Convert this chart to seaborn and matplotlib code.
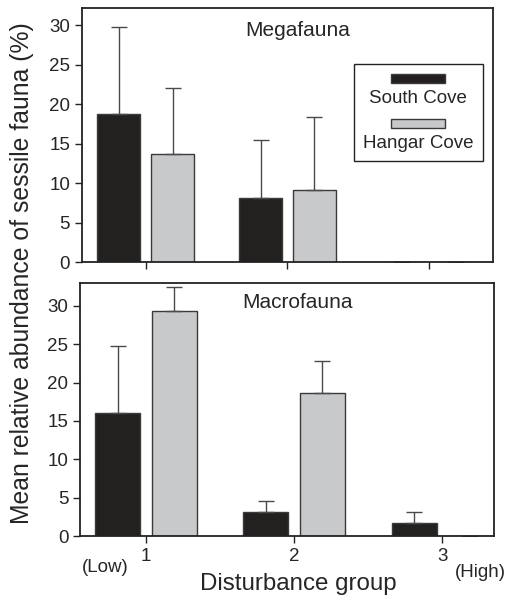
import numpy as np
import pandas as pd
import matplotlib
matplotlib.use("Agg")
import matplotlib.pyplot as plt
from matplotlib.patches import Rectangle
import seaborn as sns

groups = ["1", "2", "3"]
sites = ["South Cove", "Hangar Cove"]

mega_south = [18.7, 8.1, 0.0]
mega_south_err = [11.1, 7.4, np.nan]
mega_hangar = [13.7, 9.1, 0.0]
mega_hangar_err = [8.3, 9.2, np.nan]

macro_south = [16.0, 3.1, 1.65]
macro_south_err = [8.7, 1.45, 1.55]
macro_hangar = [29.3, 18.6, 0.0]
macro_hangar_err = [3.1, 4.2, np.nan]

y_ticks = [0, 5, 10, 15, 20, 25, 30]

palette = {"South Cove": "#231f20", "Hangar Cove": "#c8c9cb"}
edge = "#3a3a3a"

sns.set_style("ticks")
plt.rcParams["font.family"] = ["Liberation Sans", "DejaVu Sans"]


def make_df(south, hangar):
    return pd.DataFrame({
        "group": groups * 2,
        "site": [sites[0]] * 3 + [sites[1]] * 3,
        "value": list(south) + list(hangar),
    })


def panel(ax, south, south_err, hangar, hangar_err, title, ylim, xlim, ty):
    df = make_df(south, hangar)
    sns.barplot(data=df, x="group", y="value", hue="site", order=groups,
                hue_order=sites, palette=palette, errorbar=None, width=0.76,
                gap=0.2, edgecolor=edge, linewidth=1.0, legend=False, ax=ax)
    for cont, errs in zip(ax.containers, [south_err, hangar_err]):
        xs = [b.get_x() + b.get_width() / 2 for b in cont]
        hs = [b.get_height() for b in cont]
        errs = np.array(errs, dtype=float)
        ax.errorbar(xs, hs, yerr=[np.zeros_like(errs), errs], fmt="none",
                    ecolor="#4a4a4a", elinewidth=1.0, capsize=6, capthick=1.0,
                    zorder=1)
    ax.set_ylim(*ylim)
    ax.set_xlim(*xlim)
    ax.set_yticks(y_ticks)
    ax.tick_params(axis="both", labelsize=13.5, direction="out", length=5,
                   width=1.0, color="#222222")
    for s in ax.spines.values():
        s.set_visible(True)
        s.set_linewidth(1.3)
        s.set_color("#222222")
    ax.set_xlabel("")
    ax.set_ylabel("")
    ax.text(0.524, ty, title, transform=ax.transAxes, ha="center",
            va="center", fontsize=15)


fig = plt.figure(figsize=(5.07, 6.01), dpi=100)
ax1 = fig.add_axes([0.1617, 0.564, 0.8106, 0.4226])
ax2 = fig.add_axes([0.158, 0.108, 0.8165, 0.4216])

panel(ax1, mega_south, mega_south_err, mega_hangar, mega_hangar_err,
      "Megafauna", (0, 32.15), (-0.45, 2.45), 0.913)
ax1.set_xticklabels([])

panel(ax2, macro_south, macro_south_err, macro_hangar, macro_hangar_err,
      "Macrofauna", (0, 33.0), (-0.444, 2.35), 0.921)
ax2.set_xticklabels(groups)

# Legend (labels under swatches)
lx0, lx1 = (354 - 82) / 411, (482.7 - 82) / 411
ly0, ly1 = (262 - 161) / 254, (262 - 63.7) / 254
ax1.add_patch(Rectangle((lx0, ly0), lx1 - lx0, ly1 - ly0, transform=ax1.transAxes,
                        facecolor="white", edgecolor="#222222", linewidth=1.0,
                        zorder=5))
cx = (lx0 + lx1) / 2
sw_w = 54 / 411
sw_h = 9 / 254
for i, site in enumerate(sites):
    sy = (262 - (78.2 + i * 45.5)) / 254
    ax1.add_patch(Rectangle((cx - sw_w / 2, sy - sw_h / 2), sw_w, sw_h,
                            transform=ax1.transAxes, facecolor=palette[site],
                            edgecolor=edge, linewidth=1.0, zorder=6))
    ty = (262 - (98 + i * 45.5)) / 254
    ax1.text(cx, ty, site, transform=ax1.transAxes, ha="center", va="center",
             fontsize=13.5, zorder=7)

fig.text(22 / 507, 1 - 273.5 / 601, "Mean relative abundance of sessile fauna (%)",
         rotation=90, ha="center", va="center", fontsize=17.8)
fig.text(298.5 / 507, 1 - 584 / 601, "Disturbance group", ha="center",
         va="center", fontsize=17.4)
fig.text(105 / 507, 1 - 567.5 / 601, "(Low)", ha="center", va="center",
         fontsize=13.5)
fig.text(480 / 507, 1 - 572.5 / 601, "(High)", ha="center", va="center",
         fontsize=13.5)

fig.savefig("out.png", dpi=100)
